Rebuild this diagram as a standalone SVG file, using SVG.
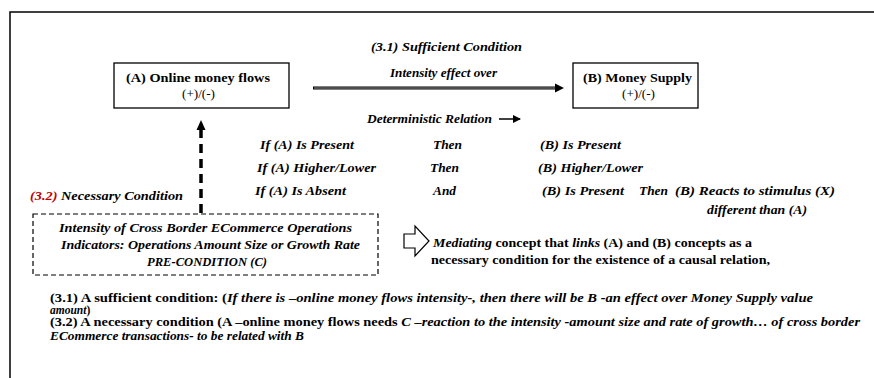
<svg xmlns="http://www.w3.org/2000/svg" width="874" height="378" viewBox="0 0 874 378" font-family="'Liberation Serif', 'Times New Roman', serif">
<defs>
<style>
text{font-family:'Liberation Serif','Times New Roman',serif;font-size:13px;fill:#000}
.b{font-weight:bold}
.bi{font-weight:bold;font-style:italic}
.r{font-weight:normal}
.sm{font-size:11.5px}
.red{fill:#c00000}
.box{fill:#fff;stroke:#000;stroke-width:1.3}
.dbox{fill:#fff;stroke:#000;stroke-width:1.2;stroke-dasharray:5,3}
</style>
<marker id="ah" markerWidth="8" markerHeight="8" refX="7" refY="4" orient="auto" markerUnits="userSpaceOnUse">
<path d="M0,0 L8,4 L0,8 Z" fill="#000"/>
</marker>
</defs>
<rect width="874" height="378" fill="#fff"/>
<path d="M10,378 V12 H874" fill="none" stroke="#000" stroke-width="1.5"/>

<g id="nodeA">
<rect class="box" x="114" y="63" width="175" height="45"/>
<text class="b" x="126" y="82" font-size="14" textLength="144" lengthAdjust="spacingAndGlyphs">(A)  Online money flows</text>
<text class="r" x="182" y="98" textLength="33" lengthAdjust="spacingAndGlyphs">(+)/(-)</text>
</g>

<g id="nodeB">
<rect class="box" x="573" y="63" width="125" height="45"/>
<text class="b" x="583" y="82" font-size="14" textLength="109" lengthAdjust="spacingAndGlyphs">(B) Money Supply</text>
<text class="r" x="622" y="98" textLength="33" lengthAdjust="spacingAndGlyphs">(+)/(-)</text>
</g>

<g id="nodeC">
<rect class="dbox" x="33" y="214" width="345" height="61"/>
<text class="bi" x="59" y="232" textLength="293" lengthAdjust="spacingAndGlyphs">Intensity of  Cross Border ECommerce Operations</text>
<text class="bi" x="61" y="249" textLength="299" lengthAdjust="spacingAndGlyphs">Indicators: Operations Amount  Size or Growth Rate</text>
<text class="bi" x="147" y="266" textLength="120" lengthAdjust="spacingAndGlyphs">PRE-CONDITION (C)</text>
</g>

<g id="connectors">
<line x1="313" y1="88" x2="556" y2="88" stroke="#000" stroke-width="3"/>
<line x1="314" y1="88" x2="556" y2="88" stroke="#999" stroke-width="1"/>
<path d="M555,83.5 L564,88 L555,92.5 Z" fill="#000"/>
<line x1="201" y1="213" x2="201" y2="130" stroke="#000" stroke-width="3.5" stroke-dasharray="9,6"/>
<path d="M196.5,130 L201,120 L205.5,130 Z" fill="#000"/>
<path d="M404,234 H415 V226 L429,241 L415,256 V248 H404 Z" fill="#fff" stroke="#000" stroke-width="1.2"/>
<line x1="499" y1="119" x2="520" y2="119" stroke="#000" stroke-width="1.5" marker-end="url(#ah)"/>
</g>

<g id="labels">
<text class="bi" x="371" y="51" textLength="151" lengthAdjust="spacingAndGlyphs">(3.1)  Sufficient Condition</text>
<text class="bi" x="390" y="77" textLength="107" lengthAdjust="spacingAndGlyphs">Intensity effect over</text>
<text class="bi" x="367" y="123" textLength="125" lengthAdjust="spacingAndGlyphs">Deterministic Relation</text>

<text class="bi" x="260" y="149" textLength="94" lengthAdjust="spacingAndGlyphs">If (A) Is Present</text>
<text class="bi" x="257" y="172" textLength="119" lengthAdjust="spacingAndGlyphs">If (A) Higher/Lower</text>
<text class="bi" x="255" y="195" textLength="91" lengthAdjust="spacingAndGlyphs">If (A) Is Absent</text>
<text class="bi" x="433" y="149" textLength="29" lengthAdjust="spacingAndGlyphs">Then</text>
<text class="bi" x="430" y="172" textLength="29" lengthAdjust="spacingAndGlyphs">Then</text>
<text class="bi" x="433" y="195" textLength="23" lengthAdjust="spacingAndGlyphs">And</text>
<text class="bi" x="540" y="149" textLength="81" lengthAdjust="spacingAndGlyphs">(B) Is Present</text>
<text class="bi" x="538" y="172" textLength="105" lengthAdjust="spacingAndGlyphs">(B) Higher/Lower</text>
<text class="bi" x="542" y="195" textLength="82" lengthAdjust="spacingAndGlyphs">(B) Is Present</text>
<text class="bi" x="639" y="195" textLength="29" lengthAdjust="spacingAndGlyphs">Then</text>
<text class="bi" x="675" y="195" textLength="160" lengthAdjust="spacingAndGlyphs">(B) Reacts to stimulus (X)</text>
<text class="bi" x="707" y="214" textLength="100" lengthAdjust="spacingAndGlyphs">different than (A)</text>

<text class="bi" x="30" y="200" textLength="153" lengthAdjust="spacingAndGlyphs"><tspan class="red">(3.2)</tspan> Necessary Condition</text>

<text class="b" x="433" y="247" textLength="319" lengthAdjust="spacingAndGlyphs"><tspan class="bi">Mediating</tspan> concept that <tspan class="bi">links</tspan> (A) and (B) concepts as a</text>
<text class="b" x="431" y="264" textLength="339" lengthAdjust="spacingAndGlyphs">necessary condition for the existence of a causal relation,</text>

<text class="b sm" x="50" y="302" textLength="763" lengthAdjust="spacingAndGlyphs">(3.1) A sufficient condition:  (<tspan class="bi">If there is  –online money flows intensity-, then there will be B -an effect over Money Supply value</tspan></text>
<text class="b sm" x="50" y="314"><tspan class="bi">amount</tspan>)</text>
<text class="b sm" x="50" y="326" textLength="810" lengthAdjust="spacingAndGlyphs">(3.2) A necessary condition (A –online money flows needs <tspan class="bi">C –reaction to the intensity -amount size and rate of growth… of cross border</tspan></text>
<text class="bi sm" x="50" y="340" textLength="254" lengthAdjust="spacingAndGlyphs">ECommerce transactions- to be related with B</text>
</g>
</svg>
